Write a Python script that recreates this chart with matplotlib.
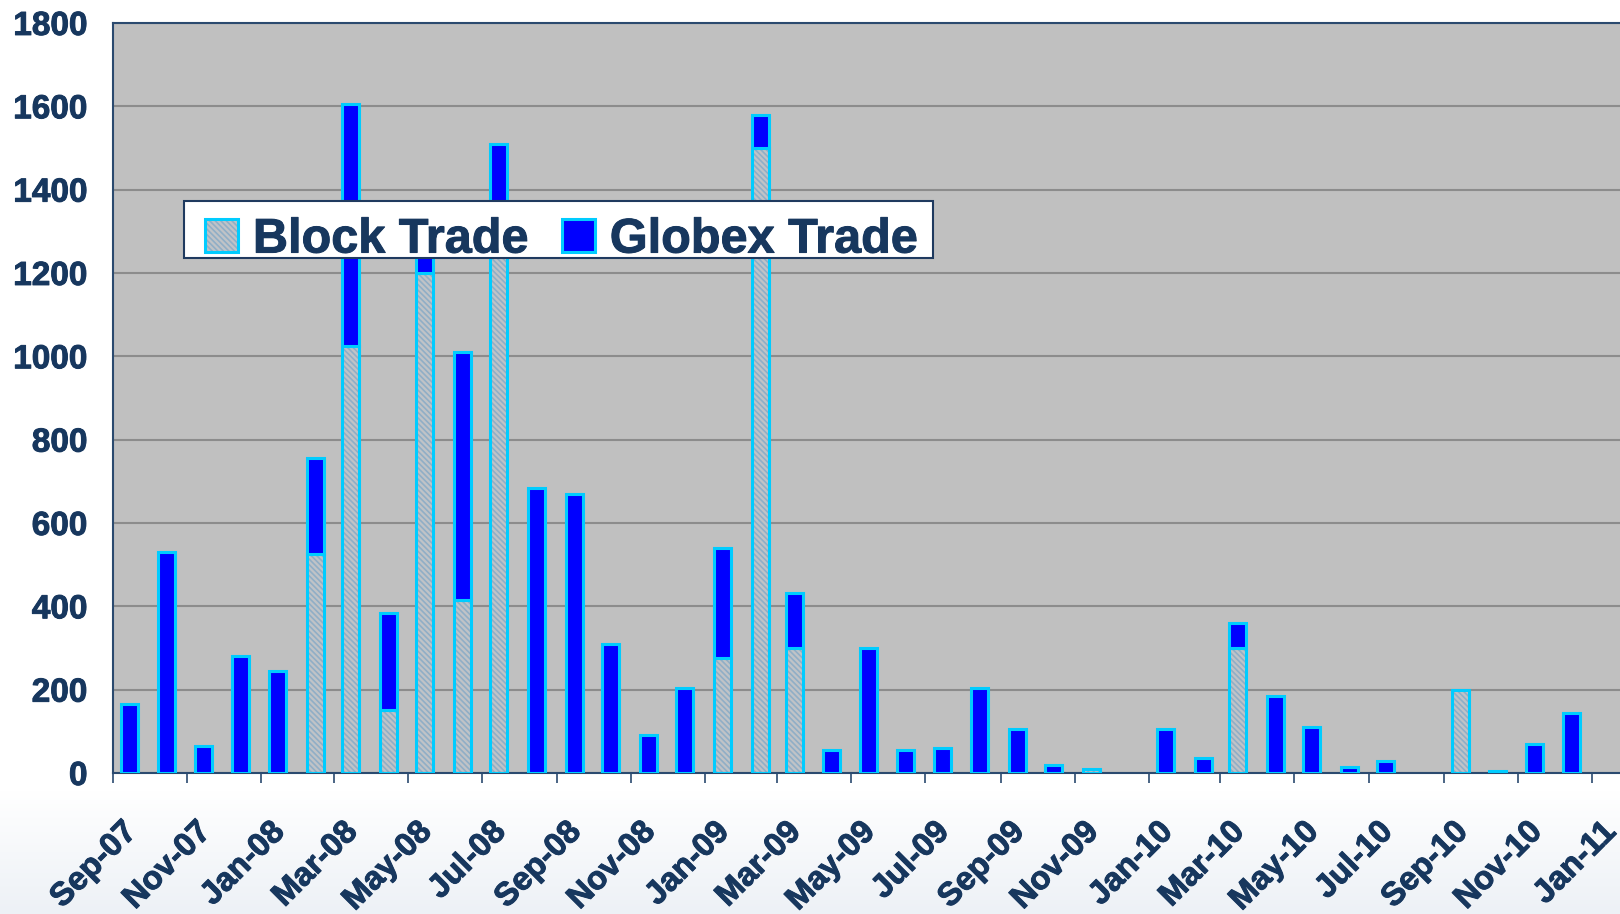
import matplotlib
matplotlib.use('Agg')
import matplotlib.pyplot as plt
import matplotlib.dates as mdates
import matplotlib.patheffects as pe
from matplotlib.colors import LinearSegmentedColormap
from matplotlib.patches import Patch, Rectangle
from matplotlib.transforms import ScaledTranslation
import numpy as np
import pandas as pd

# monthly volumes, Sep-07 .. Dec-10
months = pd.date_range('2007-09-01', '2010-12-01', freq='MS')
block_trade = [0, 0, 0, 0, 0, 525, 1025, 150, 1200, 415,
               1300, 0, 0, 0, 0, 0, 275, 1500, 300, 0,
               0, 0, 0, 0, 0, 0, 10, 0, 0, 0,
               300, 0, 0, 0, 0, 0, 200, 5, 0, 0]
globex_trade = [165, 530, 65, 280, 245, 230, 580, 235, 50, 595,
                210, 685, 670, 310, 90, 205, 265, 80, 132, 55,
                300, 55, 60, 205, 105, 20, 0, 0, 105, 35,
                60, 185, 110, 15, 28, 0, 0, 0, 70, 145]
legend_labels = ['Block Trade', 'Globex Trade']

plt.rcParams['font.family'] = ['Liberation Sans', 'DejaVu Sans']
plt.rcParams['font.weight'] = 'bold'
plt.rcParams['hatch.color'] = '#90aec6'
plt.rcParams['hatch.linewidth'] = 1.2

navy = '#17375e'
cyan = '#00ccff'
block_face = '#c0c3c7'
hatch = '\\\\\\\\\\\\'
heavy = [pe.withStroke(linewidth=0.7, foreground=navy)]

fig = plt.figure(figsize=(16.2, 9.14), dpi=100)

# faint gradient at the bottom of the figure
bg = fig.add_axes([0, 0, 1, 1], zorder=-1)
rows = np.arange(914)
grad = np.clip((rows - 790) / 124.0, 0, 1)[:, None]
bg.imshow(grad, aspect='auto', extent=[0, 1, 0, 1],
          cmap=LinearSegmentedColormap.from_list('bg', ['#ffffff', '#edf1f6']))
bg.axis('off')

ax = fig.add_axes([0.0695, 0.1543, 0.9305, 0.8206])
ax.set_facecolor('#c0c0c0')

x = mdates.date2num(months) + 14
block = np.array(block_trade, dtype=float)
globex = np.array(globex_trade, dtype=float)
mb = block > 0
mg = globex > 0

ax.bar(x[mb], block[mb], width=14, color=block_face, hatch=hatch,
       linewidth=0, zorder=2)
ax.bar(x[mb], block[mb], width=14, fill=False, edgecolor=cyan,
       linewidth=2.2, zorder=3)
ax.bar(x[mg], globex[mg], bottom=block[mg], width=14, color='#0000ff',
       edgecolor=cyan, linewidth=2.2, zorder=3)

ax.set_ylim(0, 1800)
ax.set_yticks(range(0, 1801, 200))
ax.set_xlim(mdates.date2num(pd.Timestamp('2007-09-01')),
            mdates.date2num(pd.Timestamp('2011-01-24')))
ax.xaxis.set_major_locator(mdates.MonthLocator(bymonth=[1, 3, 5, 7, 9, 11]))
ax.xaxis.set_major_formatter(mdates.DateFormatter('%b-%y'))

ax.set_axisbelow(True)
ax.yaxis.grid(True, color='#8c8c8c', linewidth=1.5)

for side in ['left', 'bottom', 'top']:
    ax.spines[side].set_color('#2b4a6f')
    ax.spines[side].set_linewidth(1.5)
ax.spines['right'].set_visible(False)

ax.tick_params(axis='y', length=0, pad=18, labelsize=24, labelcolor=navy)
ax.tick_params(axis='x', length=7.2, width=1.2, color='#2b4a6f', pad=36.3,
               labelsize=23.5, labelcolor=navy)
for lbl in ax.get_yticklabels():
    lbl.set_path_effects(heavy)
offset = ScaledTranslation(0.25, 0, fig.dpi_scale_trans)
for lbl in ax.get_xticklabels():
    lbl.set_rotation(45)
    lbl.set_ha('right')
    lbl.set_va('baseline')
    lbl.set_rotation_mode('anchor')
    lbl.set_transform(lbl.get_transform() + offset)
    lbl.set_path_effects(heavy)

# legend box drawn separately so its padding matches the original
ax.add_patch(Rectangle((0.0474, 0.6867), 0.4968, 0.076, transform=ax.transAxes,
                       facecolor='white', edgecolor='#1f3a5f', linewidth=1.5,
                       zorder=4.5))
handles = [(Patch(facecolor=block_face, hatch=hatch, linewidth=0),
            Patch(fill=False, edgecolor=cyan, linewidth=2.2)),
           Patch(facecolor='#0000ff', edgecolor=cyan, linewidth=2.2)]
leg = ax.legend(handles, legend_labels, ncol=2, loc='center left',
                bbox_to_anchor=(0.0615, 0.7105), borderaxespad=0,
                prop={'size': 35, 'weight': 'bold'}, labelcolor=navy,
                frameon=False, handlelength=0.68, handleheight=0.68,
                handletextpad=0.3, columnspacing=0.7, borderpad=0)
leg.set_zorder(5)
for txt in leg.get_texts():
    txt.set_path_effects(heavy)

plt.savefig('out.png', dpi=100)
